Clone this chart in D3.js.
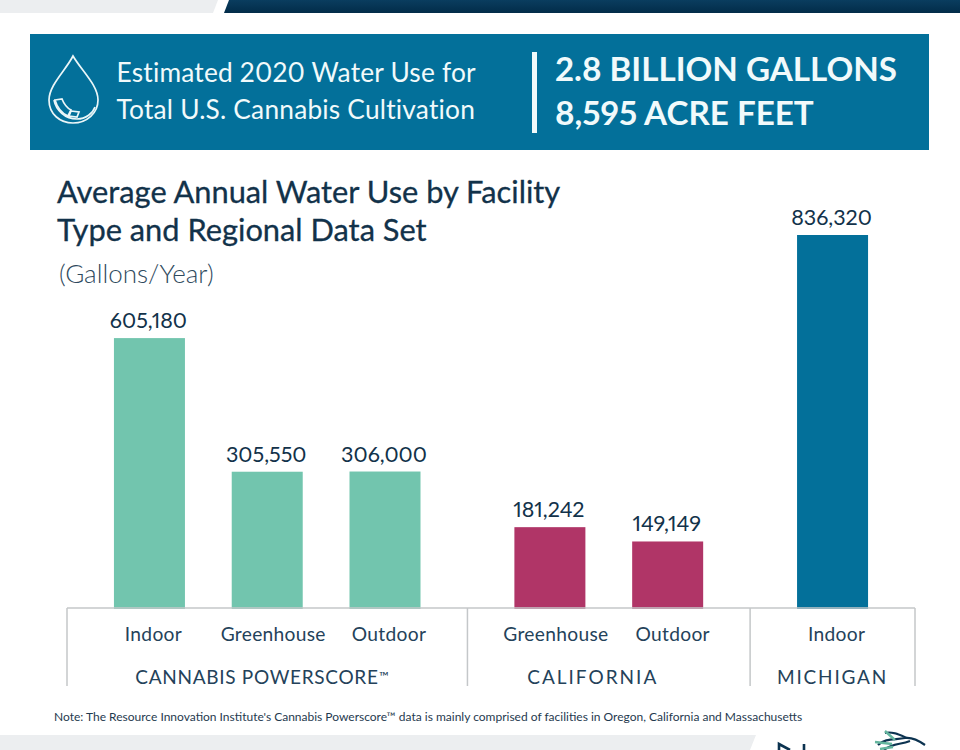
<!DOCTYPE html>
<html><head><meta charset="utf-8">
<script src="https://cdnjs.cloudflare.com/ajax/libs/d3/7.8.5/d3.min.js"></script>
<style>html,body{margin:0;padding:0;background:#fff}svg{display:block}text{font-family:Lato,sans-serif;font-variant-numeric:proportional-nums;font-feature-settings:"pnum" 1}</style>
</head><body><svg id="c" width="960" height="750"></svg>
<script>
const groups = ["CANNABIS POWERSCORE", "CALIFORNIA", "MICHIGAN"];
const groupMarks = ["™", "", ""];
const groupCounts = [3, 2, 1];
const facilityTypes = ["Indoor", "Greenhouse", "Outdoor", "Greenhouse", "Outdoor", "Indoor"];
const gallons = [605180, 305550, 306000, 181242, 149149, 836320];
const barGroup = [0, 0, 0, 1, 1, 2];
const groupColors = ["#72c5ae", "#b03567", "#03709a"];
const bannerLeft = ["Estimated 2020 Water Use for", "Total U.S. Cannabis Cultivation"];
const bannerRight = ["2.8 BILLION GALLONS", "8,595 ACRE FEET"];
const titleLines = ["Average Annual Water Use by Facility", "Type and Regional Data Set"];
const subtitle = "(Gallons/Year)";
const note = "Note: The Resource Innovation Institute's Cannabis Powerscore™ data is mainly comprised of facilities in Oregon, California and Massachusetts";

const svg = d3.select("#c");
const ink = "#12324a", axisGrey = "#c4c7c9";

// page furniture
const defs = svg.append("defs");
const g = defs.append("linearGradient").attr("id","nav").attr("x1",0).attr("x2",0).attr("y1",0).attr("y2",1);
g.append("stop").attr("offset",0).attr("stop-color","#0a3d5f");
g.append("stop").attr("offset",1).attr("stop-color","#022c49");
svg.append("path").attr("d","M0,0H218L213,13H0Z").attr("fill","#eceef0");
svg.append("path").attr("d","M229,0H960V13H224Z").attr("fill","url(#nav)");
svg.append("path").attr("d","M0,735H756L750,750H0Z").attr("fill","#eceef0");

// banner
svg.append("rect").attr("x",30).attr("y",34).attr("width",899).attr("height",116).attr("fill","#03709a");
const drop = svg.append("g").attr("fill","none").attr("stroke","#eaf6f8").attr("stroke-width",1.7);
drop.append("path").attr("d","M73,56C66,70 49,85 49,100C49,114 60,123 73,123C87,123 98,113 98,100C98,85 81,70 73,56Z");
drop.append("path").attr("d","M54,100C56,110 65,119 77,119C86,119 93,113 95,107");
drop.append("path").attr("d","M55,100L62,99C64,104 67,108 71,110L68,116C61,113 57,107 55,100Z");
drop.append("path").attr("d","M71,111L79,112L77,117L69,116Z");
svg.selectAll("text.bl").data(bannerLeft).join("text").attr("class","bl")
  .attr("x",116.5).attr("y",(d,i)=>81.5+i*37.5).attr("font-size",26.3).attr("fill","#f1fafb").attr("letter-spacing",0.2).text(d=>d);
svg.append("rect").attr("x",532).attr("y",52).attr("width",5).attr("height",81).attr("fill","#f1fafb");
svg.selectAll("text.br").data(bannerRight).join("text").attr("class","br")
  .attr("x",555).attr("y",(d,i)=>81+i*44).attr("font-size",33.2).attr("font-weight",700).attr("fill","#f1fafb").text(d=>d);

// titles
svg.selectAll("text.t").data(titleLines).join("text").attr("class","t")
  .attr("x",57).attr("y",(d,i)=>203+i*37.5).attr("font-size",30.8).attr("fill",ink).attr("stroke",ink).attr("stroke-width",0.3).text(d=>d);
svg.append("text").attr("x",59).attr("y",283).attr("font-size",26).attr("font-weight",300).attr("fill","#2f4a5e").text(subtitle);

// scales: one unit is the distance between neighbouring bars in a group
const outerGap = 0.7;
const groupSpans = groupCounts.map(n => (n-1) + 2*outerGap);
const groupEdges = d3.cumsum([0, ...groupSpans]);
const x = d3.scaleLinear().domain([0, d3.sum(groupSpans)]).range([67, 915]);
const y = d3.scaleLinear().domain([0, 836320]).range([608, 235]);
const barIdx = barGroup.map((gi,i)=>i - barGroup.indexOf(gi));
const barPos = barGroup.map((gi,i)=>groupEdges[gi] + outerGap + barIdx[i]);
const barW = 71;

// bars
svg.selectAll("rect.bar").data(gallons).join("rect").attr("class","bar")
  .attr("x",(d,i)=>x(barPos[i])-barW/2).attr("width",barW)
  .attr("y",d=>y(d)).attr("height",d=>y(0)-y(d)+1)
  .attr("fill",(d,i)=>groupColors[barGroup[i]]);
svg.selectAll("text.v").data(gallons).join("text").attr("class","v")
  .attr("x",(d,i)=>x(barPos[i])-1).attr("y",d=>y(d)-10).attr("text-anchor","middle")
  .attr("font-size",21.5).attr("fill",ink).text(d=>d3.format(",")(d));

// axis
svg.append("line").attr("x1",x.range()[0]).attr("x2",x.range()[1]).attr("y1",608).attr("y2",608).attr("stroke",axisGrey).attr("stroke-width",1.5);
svg.selectAll("line.sep").data(groupEdges).join("line").attr("class","sep")
  .attr("x1",d=>x(d)).attr("x2",d=>x(d)).attr("y1",608).attr("y2",686).attr("stroke",axisGrey).attr("stroke-width",1.5);
svg.selectAll("text.c").data(facilityTypes).join("text").attr("class","c")
  .attr("x",(d,i)=>x(barPos[i])+(i===2?4:(i===1||i===3)?6:(i===4?5:4))).attr("y",641).attr("text-anchor","middle")
  .attr("font-size",19.2).attr("fill","#24425a").attr("letter-spacing",0.3).text(d=>d);
const groupTracking = [0.7, 2, 1.8];
const gl = svg.selectAll("text.g").data(groups).join("text").attr("class","g")
  .attr("x",(d,i)=>x((groupEdges[i]+groupEdges[i+1])/2)-(i==0?5:i==1?16:0)).attr("y",684).attr("text-anchor","middle")
  .attr("font-size",19).attr("fill","#24425a").attr("letter-spacing",(d,i)=>groupTracking[i]);
gl.append("tspan").text(d=>d);
gl.append("tspan").attr("font-size",13).attr("dy",-3).text((d,i)=>groupMarks[i]);

// note
svg.append("text").attr("x",54).attr("y",721).attr("font-size",12).attr("fill","#1f3a4f").text(note);

// logo fragment
const logo = svg.append("g").attr("fill","none");
logo.append("path").attr("d","M779,750V744L790,750M804,750V744").attr("stroke","#0c3350").attr("stroke-width",2.6);
logo.append("path").attr("d","M878,745C885,738 895,740 905,738C912,737 918,740 925,745").attr("stroke","#0c3350").attr("stroke-width",2.2);
logo.append("path").attr("d","M885,733C892,731 900,735 907,738M884,750C893,743 900,745 910,741").attr("stroke","#0c3350").attr("stroke-width",2);
logo.append("path").attr("d","M875,742L892,744M885,731L895,740M880,749L893,747").attr("stroke","#64b59e").attr("stroke-width",2.4);
</script></body></html>
